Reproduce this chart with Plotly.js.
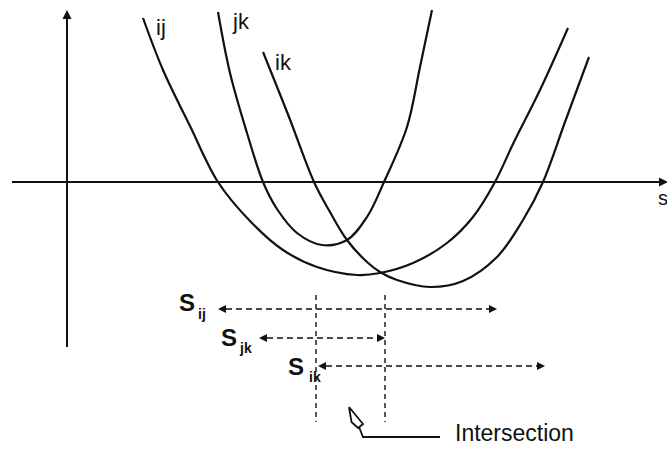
<!DOCTYPE html>
<html>
<head>
<meta charset="utf-8">
<script src="https://cdn.plot.ly/plotly-3.0.1.min.js"></script>
<style>html,body{margin:0;padding:0;background:#fff;}#chart{width:667px;height:450px;}</style>
</head>
<body>
<div id="chart"></div>
<script>
// Curve ij
const ijS = [76, 96, 123, 151, 183, 216, 250, 290, 313, 346, 380, 406, 428, 446, 473, 501];
const ijF = [164, 112, 56, 0, -39, -68, -85, -93, -91, -81, -61, -35, 0, 38, 92, 154];
// Curve jk
const jkS = [151, 163, 180, 196, 210, 230, 255, 280, 300, 317, 340, 353, 365];
const jkF = [170, 109, 49, 0, -27, -51, -63, -58, -35, 0, 55, 115, 172];
// Curve ik
const ikS = [196, 222, 247, 263, 280, 300, 313, 330, 363, 396, 430, 456, 476, 498, 522];
const ikF = [130, 65, 0, -30, -58, -80, -90, -98, -105, -99, -75, -38, 0, 60, 125];

// Curve labels
const curveNames = ["ij", "jk", "ik"];
const curveLabelS = [94, 174, 216];
const curveLabelF = [155, 161, 120];

// Interval arrows (S ranges where each curve is below zero)
const rangeNames = ["ij", "jk", "ik"];
const rangeStart = [151, 192, 251];
const rangeEnd = [430, 318, 478];
const rangeLevel = [-127, -156, -184];
const rangeLabelS = [120, 161.5, 229];
const rangeLabelF = [-120, -155, -184];
const rangeSubS = [135, 178, 248];
const rangeSubF = [-132, -166, -195];

// Intersection bounds
const interBounds = [249, 318];
const interTop = -113, interBottom = -240;

// Axis extents
const axisX = [-55, 601];
const axisY = [-165, 172];

// Intersection pointer
const pointerS = [282, 284.5, 291, 296, 282];
const pointerF = [-225, -240, -246, -242, -225];
const stemS = [292, 296, 373];
const stemF = [-245, -255, -255];

const black = "#111";
const traces = [
  {x: ijS, y: ijF, mode: "lines", line: {color: black, width: 2.2, shape: "spline", smoothing: 1}},
  {x: jkS, y: jkF, mode: "lines", line: {color: black, width: 2.2, shape: "spline", smoothing: 1}},
  {x: ikS, y: ikF, mode: "lines", line: {color: black, width: 2.2, shape: "spline", smoothing: 1}},
  {x: pointerS, y: pointerF, mode: "lines", line: {color: black, width: 1.8}},
  {x: stemS, y: stemF, mode: "lines", line: {color: black, width: 1.8}}
];

const shapes = [];
const annotations = [];
// axes
shapes.push({type: "line", xref: "x", yref: "y", x0: axisX[0], x1: axisX[1] - 6, y0: 0, y1: 0, line: {color: black, width: 2}});
shapes.push({type: "line", xref: "x", yref: "y", x0: 0, x1: 0, y0: axisY[0], y1: axisY[1] - 6, line: {color: black, width: 2}});
traces.push({x: [0], y: [axisY[1]], mode: "markers", marker: {symbol: "arrow-up", size: 9, color: black}});
traces.push({x: [axisX[1]], y: [0], mode: "markers", marker: {symbol: "arrow-right", size: 9, color: black}});
annotations.push({x: 589, y: -16, xref: "x", yref: "y", text: "s", showarrow: false, xanchor: "left", font: {size: 20, color: black}});

// interval arrows
for (let i = 0; i < rangeNames.length; i++) {
  shapes.push({type: "line", xref: "x", yref: "y", x0: rangeStart[i] + 8, x1: rangeEnd[i] - 8, y0: rangeLevel[i], y1: rangeLevel[i], line: {color: black, width: 1.6, dash: "6px,4px"}});
  annotations.push({x: rangeLabelS[i], y: rangeLabelF[i], xref: "x", yref: "y", text: "<b>S</b>", showarrow: false, font: {size: 24, color: black}});
  annotations.push({x: rangeSubS[i], y: rangeSubF[i], xref: "x", yref: "y", text: "<b>" + rangeNames[i] + "</b>", showarrow: false, font: {size: 14, color: black}});
}
traces.push({x: rangeStart, y: rangeLevel, mode: "markers", marker: {symbol: "arrow-left", size: 8, color: black}});
traces.push({x: rangeEnd, y: rangeLevel, mode: "markers", marker: {symbol: "arrow-right", size: 8, color: black}});

// vertical dashed bounds
for (const b of interBounds) {
  shapes.push({type: "line", xref: "x", yref: "y", x0: b, x1: b, y0: interTop, y1: interBottom, line: {color: black, width: 1.4, dash: "5px,4px"}});
}
// curve labels
for (let i = 0; i < curveNames.length; i++) {
  annotations.push({x: curveLabelS[i], y: curveLabelF[i], xref: "x", yref: "y", text: curveNames[i], showarrow: false, font: {size: 22, color: black}});
}
annotations.push({x: 386, y: -251, xref: "x", yref: "y", text: "Intersection", showarrow: false, xanchor: "left", font: {size: 23, color: black}});

const layout = {
  width: 667, height: 450,
  margin: {l: 0, r: 0, t: 0, b: 0},
  paper_bgcolor: "#fff", plot_bgcolor: "#fff",
  showlegend: false,
  font: {family: "Liberation Sans, Arial, sans-serif"},
  xaxis: {range: [-67, 600], visible: false, fixedrange: true},
  yaxis: {range: [-268, 182], visible: false, fixedrange: true},
  shapes: shapes,
  annotations: annotations
};
Plotly.newPlot("chart", traces, layout, {displayModeBar: false, staticPlot: true});
</script>
</body>
</html>
